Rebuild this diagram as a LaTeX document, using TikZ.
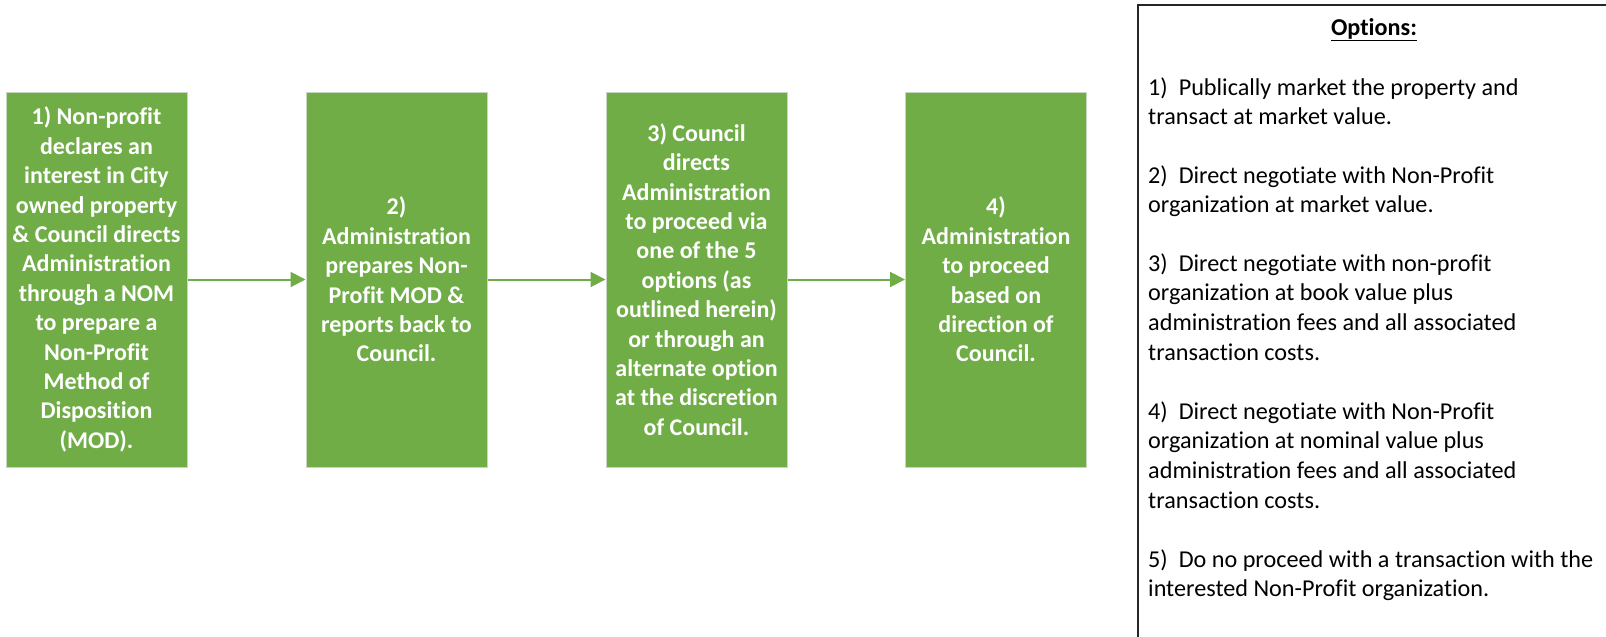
\documentclass[tikz,border=0pt]{standalone}
\usepackage{fontspec}
\setmainfont{Carlito}[Ligatures=NoCommon]
\usetikzlibrary{arrows.meta}
\definecolor{stepgreen}{HTML}{70AD47}
\definecolor{stepedge}{HTML}{C9D6C0}
\begin{document}
\begin{tikzpicture}[x=1pt,y=-1pt,
  stepbox/.style={rectangle, fill=stepgreen, draw=stepedge, line width=1pt,
    minimum width=181pt, minimum height=375pt, inner sep=0pt, align=center,
    text=white, font=\fontsize{24}{29.4}\selectfont\bfseries},
  flow/.style={draw=stepgreen, line width=2pt, -{Triangle[length=15pt,width=15pt]}},
  opttext/.style={anchor=north west, inner sep=0pt, align=left,
    font=\fontsize{24.2}{29.6}\selectfont}]
\useasboundingbox (0,0) rectangle (1606,637);
\node[stepbox] (b1) at (96.5,279.5) {1) Non-profit\\declares an\\interest in City\\owned property\\\& Council directs\\Administration\\through a NOM\\to prepare a\\Non-Profit\\Method of\\Disposition\\(MOD).};
\node[stepbox] (b2) at (396.5,279.5) {2)\\Administration\\prepares Non-\\Profit MOD \&\\reports back to\\Council.};
\node[stepbox] (b3) at (696.5,279.5) {3) Council\\directs\\Administration\\to proceed via\\one of the 5\\options (as\\outlined herein)\\or through an\\alternate option\\at the discretion\\of Council.};
\node[stepbox] (b4) at (996,279.5) {4)\\Administration\\to proceed\\based on\\direction of\\Council.};
\draw[flow] (b1.east) -- (b2.west);
\draw[flow] (b2.east) -- (b3.west);
\draw[flow] (b3.east) -- (b4.west);
\draw[line width=1.5pt, draw=black!85] (1606,5) -- (1138,5) -- (1138,637);
\node[anchor=base, inner sep=0pt, font=\fontsize{24.2}{29.6}\selectfont\bfseries] (hdr) at (1374,35) {\underline{Options:}};
\node[opttext] (o1) at (1148,74.3) {\strut 1)\ \ Publically market the property and\\transact at market value.};
\node[opttext] (o2) at (1148,162.3) {\strut 2)\ \ Direct negotiate with Non-Profit\\organization at market value.};
\node[opttext] (o3) at (1148,250.3) {\strut 3)\ \ Direct negotiate with non-profit\\organization at book value plus\\administration fees and all associated\\transaction costs.};
\node[opttext] (o4) at (1148,398.3) {\strut 4)\ \ Direct negotiate with Non-Profit\\organization at nominal value plus\\administration fees and all associated\\transaction costs.};
\node[opttext] (o5) at (1148,546.3) {\strut 5)\ \ Do no proceed with a transaction with the\\interested Non-Profit organization.};
\end{tikzpicture}
\end{document}
